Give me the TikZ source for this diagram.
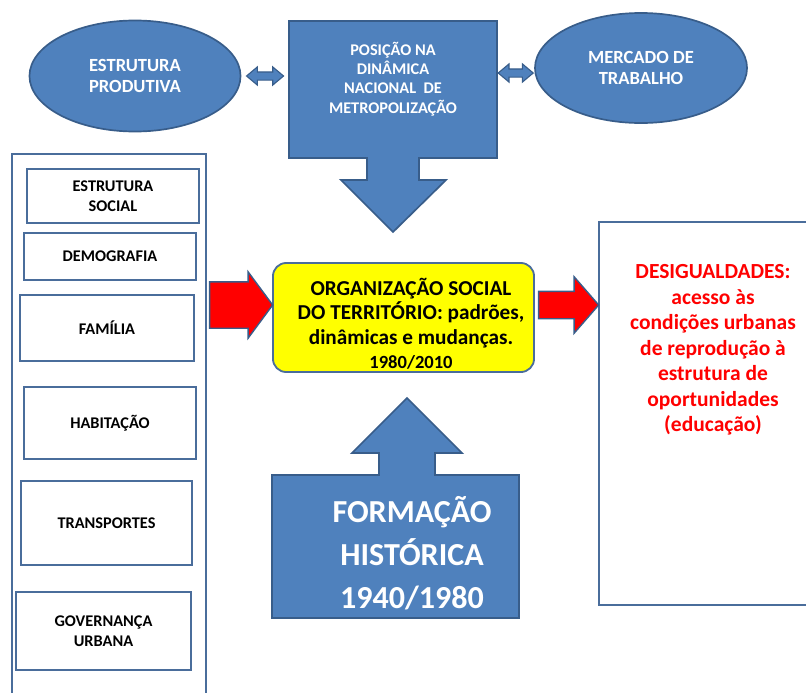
\documentclass[tikz,border=0pt]{standalone}
\usepackage{fontspec}
\setmainfont{Carlito}
\usepackage{tikz}
\usetikzlibrary{shapes,shapes.arrows,fit,calc}
\definecolor{azul}{HTML}{4F81BD}
\definecolor{azulborda}{HTML}{385D8A}
\definecolor{caixaborda}{HTML}{4A6D9B}
\definecolor{amarelo}{HTML}{FFFF00}
\definecolor{vermelho}{HTML}{FF0000}
\tikzset{elip/.style={ellipse,draw=azulborda,fill=azul,line width=1.2pt,inner sep=0pt,text=white,align=center,font=\bfseries\fontsize{13.2}{15.4}\selectfont}}
\tikzset{caixa/.style={rectangle,draw=caixaborda,line width=1.3pt,inner sep=0pt,align=center,font=\bfseries\fontsize{11.6}{14.2}\selectfont}}
\tikzset{seta/.style={single arrow,draw=azulborda,fill=vermelho,line width=1pt,inner xsep=0pt,anchor=tail}}
\tikzset{duplaseta/.style={double arrow,draw=azulborda,fill=azul,line width=0.8pt,inner xsep=0pt,inner ysep=0.0875cm,double arrow head extend=0.125cm,double arrow tip angle=80}}
\tikzset{bloco/.style={draw=azulborda,fill=azul,line width=1.2pt,line join=miter}}

\begin{document}
\begin{tikzpicture}[x=0.025cm,y=-0.025cm]
    \useasboundingbox (0,0) rectangle (806,692);

    % blocos azuis com seta
    \draw[bloco] (289,21) -- (497,21) -- (497,158) -- (419,158) -- (419,180) -- (446,180) -- (393,232) -- (341,180) -- (367,180) -- (367,158) -- (289,158) -- cycle;
    \draw[bloco] (272,618) -- (272,475) -- (379,475) -- (379,453) -- (352,453) -- (407,398) -- (462,453) -- (435,453) -- (435,475) -- (519,475) -- (519,618) -- cycle;
    \node[fit={(289,21)(497,158)},inner sep=0pt] (posbox) {};
    \node[fit={(272,475)(519,618)},inner sep=0pt] (formbox) {};

    \node[elip,minimum width=5.275cm,minimum height=2.775cm] (prod)at (135,76) {ESTRUTURA\\PRODUTIVA};
    \node[elip,minimum width=5.3cm,minimum height=2.75cm] (merc)at (641,68) {MERCADO DE\\TRABALHO};
    \node[text=white,align=center,font=\bfseries\fontsize{11.6}{13.7}\selectfont] (pos)at (393,79) {POSIÇÃO NA\\DINÂMICA\\NACIONAL\ \ DE\\METROPOLIZAÇÃO};
    \node[text=white,align=center,font=\bfseries\fontsize{22.8}{30.4}\selectfont] (form)at (412,553) {FORMAÇÃO\\HISTÓRICA\\1940/1980};

    % coluna da esquerda
    \node[caixa,minimum width=4.85cm,minimum height=13.65cm] (frame)at (109,427) {};
    \node[caixa,minimum width=4.3cm,minimum height=1.35cm] (social)at (113,196) {ESTRUTURA\\SOCIAL};
    \node[caixa,minimum width=4.3cm,minimum height=1.175cm] (demo)at (110,256.5) {DEMOGRAFIA};
    \node[caixa,minimum width=4.35cm,minimum height=1.65cm] (fam)at (107,328) {FAMÍLIA};
    \node[caixa,minimum width=4.3cm,minimum height=1.8cm] (hab)at (110,423) {HABITAÇÃO};
    \node[caixa,minimum width=4.275cm,minimum height=2.1cm] (transp)at (106.5,523) {TRANSPORTES};
    \node[caixa,minimum width=4.375cm,minimum height=1.95cm] (gov)at (103.5,631) {GOVERNANÇA\\URBANA};

    % centro e direita
    \node[caixa,minimum width=6.525cm,minimum height=2.725cm,fill=amarelo,rounded corners=0.33cm] (org)at (403.5,317.5) {};
    \node[align=center,font=\bfseries\fontsize{15.1}{17.4}\selectfont] (orgtxt)at (411,324) {ORGANIZAÇÃO SOCIAL\\DO TERRITÓRIO: padrões,\\dinâmicas e mudanças.\\{\fontsize{13.2}{15}\selectfont 1980/2010}};
    \node[caixa,minimum width=5.325cm,minimum height=9.575cm] (desig)at (705.5,413.5) {};
    \node[align=center,text=vermelho,font=\bfseries\fontsize{15.3}{18.1}\selectfont] (desigtxt)at (713,350) {DESIGUALDADES:\\acesso às\\condições urbanas\\de reprodução à\\estrutura de\\oportunidades\\(educação)};

    % setas
    \node[duplaseta,minimum height=0.925cm] (d1)at ($(prod.east)!.5!(prod.east -| posbox.west)$) {};
    \node[duplaseta,minimum height=0.875cm,yshift=-0.125cm] (d2)at ($(merc.west)!.5!(merc.west -| posbox.east)$) {};
    \node[seta,minimum height=1.575cm,inner ysep=0.5625cm,single arrow head extend=0.25cm,single arrow tip angle=107] (s1)at ($(frame.east |- org.west)+(2,-12.5)$) {};
    \node[seta,minimum height=1.5cm,inner ysep=0.325cm,single arrow head extend=0.3625cm,single arrow tip angle=98] (s2)at ($(org.east)+(3,-12.5)$) {};
\end{tikzpicture}
\end{document}
